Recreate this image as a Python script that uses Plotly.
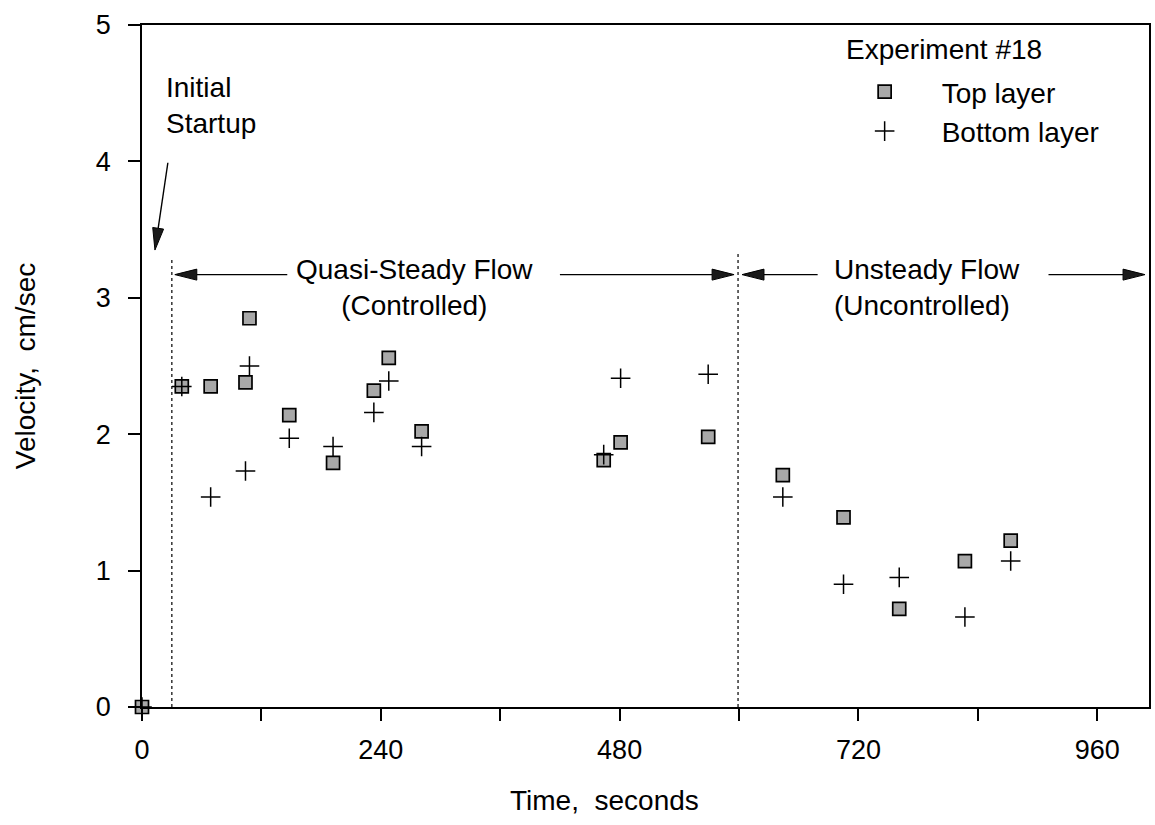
import math
import plotly.graph_objects as go

# ---------------- data ----------------
time_top = [0, 40, 69, 104, 108, 148, 192, 233, 248, 281, 464, 481, 569, 644, 705, 761, 827, 873]
vel_top = [0, 2.35, 2.35, 2.38, 2.85, 2.14, 1.79, 2.32, 2.56, 2.02, 1.81, 1.94, 1.98, 1.70, 1.39, 0.72, 1.07, 1.22]

time_bottom = [0, 40, 69, 104, 108, 148, 192, 233, 248, 281, 464, 481, 569, 644, 705, 761, 827, 873]
vel_bottom = [0, 2.35, 1.54, 1.73, 2.50, 1.97, 1.91, 2.16, 2.39, 1.91, 1.85, 2.41, 2.44, 1.54, 0.90, 0.95, 0.66, 1.07]

x_tick_vals = [0, 120, 240, 360, 480, 600, 720, 840, 960]
x_tick_text = ["0", "", "240", "", "480", "", "720", "", "960"]
y_tick_vals = [0, 1, 2, 3, 4, 5]
y_tick_text = ["0", "1", "2", "3", "4", "5"]

# phase boundaries (time, top of dotted line)
boundary_time = [30, 599]
boundary_top = [3.29, 3.34]

# arrows: (tail_t, tail_v, tip_t, tip_v)
arrow_list = [
    (26, 3.99, 13, 3.35),      # initial startup
    (146, 3.17, 33, 3.17),     # quasi-steady left
    (420, 3.17, 595, 3.17),    # quasi-steady right
    (679, 3.17, 603, 3.17),    # unsteady left
    (911, 3.17, 1008, 3.17),   # unsteady right
]

# ---------------- layout geometry ----------------
W, H = 1155, 825
ML, MR, MT, MB = 142, 4, 25, 118
X_RANGE = [0, 1012]
Y_RANGE = [0, 5]
PW, PH = W - ML - MR, H - MT - MB
PX_X = PW / (X_RANGE[1] - X_RANGE[0])
PX_Y = PH / (Y_RANGE[1] - Y_RANGE[0])

FONT = "Liberation Sans, Arial, Helvetica, sans-serif"
FS = 28

fig = go.Figure()

fig.add_trace(go.Scatter(
    x=time_top, y=vel_top, mode="markers", name="Top layer",
    marker=dict(symbol="square", size=13, color="#a8a8a8",
                line=dict(color="black", width=1.7)),
    cliponaxis=False,
))
fig.add_trace(go.Scatter(
    x=time_bottom, y=vel_bottom, mode="markers", name="Bottom layer",
    marker=dict(symbol="cross-thin", size=14, color="black",
                line=dict(color="black", width=1.5)),
    cliponaxis=False,
))

shapes = []
# dotted boundaries
for t, top in zip(boundary_time, boundary_top):
    shapes.append(dict(type="line", xref="x", yref="y", x0=t, x1=t, y0=0, y1=top,
                       line=dict(color="black", width=1.2, dash="dot")))

# arrows (line + filled head)
HEAD_LEN, HEAD_HALF = 22, 5.5
for (tx, tv, hx, hv) in arrow_list:
    dx = (hx - tx) * PX_X
    dy = (hv - tv) * PX_Y
    L = math.hypot(dx, dy)
    ux, uy = dx / L, dy / L
    bx_px = -ux * HEAD_LEN
    by_px = -uy * HEAD_LEN
    px_, py_ = -uy, ux
    base_x = hx + bx_px / PX_X
    base_v = hv + by_px / PX_Y
    c1x = base_x + px_ * HEAD_HALF / PX_X
    c1v = base_v + py_ * HEAD_HALF / PX_Y
    c2x = base_x - px_ * HEAD_HALF / PX_X
    c2v = base_v - py_ * HEAD_HALF / PX_Y
    shapes.append(dict(type="line", xref="x", yref="y", x0=tx, y0=tv, x1=base_x, y1=base_v,
                       line=dict(color="black", width=1.4)))
    shapes.append(dict(type="path", xref="x", yref="y",
                       path=f"M{hx},{hv} L{c1x},{c1v} L{c2x},{c2v} Z",
                       fillcolor="#1a1a1a", line=dict(color="black", width=1)))

annotations = [
    dict(text="Initial<br>Startup", x=22, y=4.41, xref="x", yref="y",
         xanchor="left", yanchor="middle", align="left", showarrow=False),
    dict(text="Quasi-Steady Flow<br>(Controlled)", x=274, y=3.075, xref="x", yref="y",
         xanchor="center", yanchor="middle", align="center", showarrow=False),
    dict(text="Unsteady Flow<br>(Uncontrolled)", x=693, y=3.075, xref="x", yref="y",
         xanchor="left", yanchor="middle", align="left", showarrow=False),
    dict(text="Experiment #18", x=705, y=4.82, xref="x", yref="y",
         xanchor="left", yanchor="middle", align="left", showarrow=False),
    dict(text="Time,\u00a0 seconds", x=465, y=-(801 - (H - MB)) / PH, xref="x", yref="paper",
         xanchor="center", yanchor="middle", showarrow=False),
    dict(text="Velocity,\u00a0 cm/sec", x=(25 - ML) / PW, y=0.5, xref="paper", yref="paper",
         xanchor="center", yanchor="middle", textangle=-90, showarrow=False),
]
for a in annotations:
    a["font"] = dict(family=FONT, size=FS, color="black")

axis_common = dict(
    showline=True, linecolor="black", linewidth=1.7, mirror=True,
    ticks="outside", ticklen=12, tickwidth=1.5, tickcolor="black",
    showgrid=False, zeroline=False,
    tickfont=dict(family=FONT, size=27, color="black"),
)

fig.update_layout(
    width=W, height=H,
    margin=dict(l=ML, r=MR, t=MT, b=MB),
    paper_bgcolor="white", plot_bgcolor="white",
    font=dict(family=FONT, size=FS, color="black"),
    xaxis=dict(range=X_RANGE, tickmode="array", tickvals=x_tick_vals, ticktext=x_tick_text,
               ticklabelstandoff=6, **axis_common),
    yaxis=dict(range=Y_RANGE, tickmode="array", tickvals=y_tick_vals, ticktext=y_tick_text,
               ticklabelstandoff=12, **axis_common),
    shapes=shapes,
    annotations=annotations,
    showlegend=True,
    legend=dict(x=(829 - ML) / PW, y=(H - MB - 67) / PH, xanchor="left", yanchor="top",
                bgcolor="rgba(0,0,0,0)", borderwidth=0, itemwidth=104,
                font=dict(family=FONT, size=FS, color="black")),
)

fig.write_html("out.html")
